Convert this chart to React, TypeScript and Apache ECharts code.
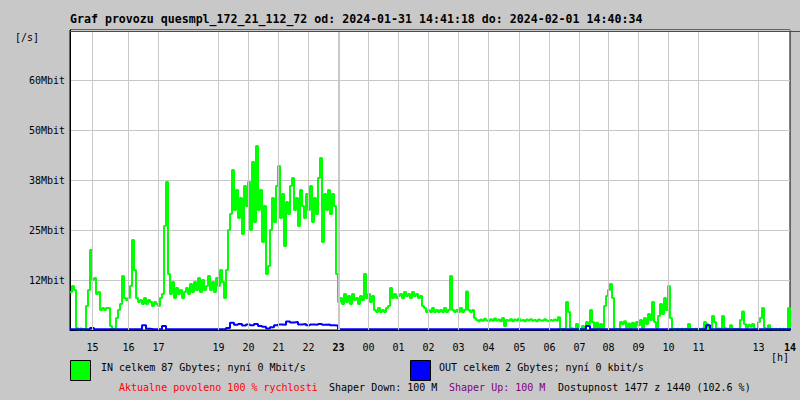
import React, { useEffect, useRef } from "react";
import * as echarts from "echarts";

const titleText =
  "Graf provozu quesmpl_172_21_112_72 od: 2024-01-31 14:41:18 do: 2024-02-01 14:40:34";
const yTicks = [12.5, 25, 37.5, 50, 62.5];
const yTickLabels = ["12Mbit", "25Mbit", "38Mbit", "50Mbit", "60Mbit"];
// positions of hour marks, in minutes from the start of the graph
const hourTicks = [45, 117, 177, 297, 357, 417, 477, 537, 597, 657, 717, 777, 837, 899, 959, 1019, 1077, 1137, 1197, 1257, 1377, 1440];
const hourLabels = ["15", "16", "17", "19", "20", "21", "22", "23", "00", "01", "02", "03", "04", "05", "06", "07", "08", "09", "10", "11", "13", "14"];
const boldHours = ["23", "14"];
const xMax = 1440;
const yMax = 75;

const inStep = 4; // minutes per IN sample
const inValues = [
  9.5, 11, 10, 0.5, 0.2, 0.4, 0.2, 0.3, 6, 10,
  20, 12.5, 13, 9, 9.5, 5, 5.5, 5, 5.5, 5.5,
  1, 0.3, 0.2, 3, 5, 6.5, 13.5, 8, 7.5, 8,
  11, 22.5, 15, 8, 7, 7.5, 6.5, 8, 6.5, 7.5,
  7, 6, 7, 6.5, 6, 8, 9, 26, 37, 14,
  9, 12, 8, 10.5, 9, 10, 8, 9.5, 10.5, 9,
  11.5, 9.5, 12, 10, 13, 9.5, 12.5, 10, 11, 13.5,
  10, 12, 9.5, 13, 11, 15, 12, 8, 15, 25,
  29, 40, 30, 35, 28, 33, 24, 36, 31, 37,
  25, 42, 27, 46, 30, 35, 22, 31, 14, 16,
  25, 33, 27, 36, 41, 28, 34, 21, 32, 29,
  36, 38, 30, 33, 26, 35, 31, 28, 34, 30,
  36, 27, 33, 29, 38, 43, 22, 34, 30, 35,
  29, 34, 31, 14, 7, 8, 6.5, 9, 7, 8.5,
  6.5, 9, 7.5, 8, 6.5, 8.5, 7.5, 14, 8, 9,
  7, 8.5, 5, 4.5, 5.5, 4.5, 5, 4.5, 5.5, 6,
  10.5, 8, 9, 8, 8.5, 9, 8, 9.5, 8.5, 9,
  8, 9.5, 8.5, 9, 8, 8.5, 6, 5.5, 4.5, 5,
  4.5, 5.5, 4.5, 5, 4.5, 5, 4.5, 5.5, 4.5, 5,
  13.5, 5, 4.5, 5, 4.5, 5.5, 4.5, 5, 9.6, 5,
  4.5, 5, 3, 2.5, 2.2, 2.6, 2.3, 2.8, 2.4, 2.2,
  2.7, 2.3, 2.9, 2.4, 2.6, 2.2, 3.0, 1.0, 2.5, 2.3,
  2.7, 2.2, 2.6, 2.4, 2.8, 2.3, 2.5, 2.2, 2.6, 2.4,
  2.7, 2.3, 2.5, 2.2, 2.6, 2.4, 2.3, 2.7, 2.4, 2.2,
  2.5, 2.3, 2.6, 2.4, 3.2, 0.2, 0.3, 0.2, 7, 4.5,
  0.5, 0.3, 0.2, 1.5, 0.2, 0.3, 1, 0.2, 2, 1.5,
  5, 2, 0.3, 1.8, 0.2, 1.5, 0.3, 6, 8.5, 10,
  11.5, 8, 0.3, 0.2, 0.3, 2, 1.5, 2.2, 0.5, 1.6,
  0.4, 1.8, 0.5, 2, 1.2, 2.5, 0.5, 3, 1.5, 4,
  2.5, 7, 2, 0.5, 3.5, 6.5, 4, 8, 5, 11,
  3, 0.4, 0.2, 0.3, 0.2, 0.3, 0.2, 0.3, 0.2, 1.5,
  0.3, 0.2, 0.3, 0.2, 0.3, 0.2, 0.4, 2, 1.5, 0.5,
  0.3, 3.5, 2, 0.4, 0.3, 0.4, 3.5, 0.5, 0.3, 0.2,
  1.2, 0.3, 0.2, 0.3, 0.2, 2.5, 4.6, 1.5, 0.5, 1.3,
  0.8, 1.5, 0.3, 0.4, 2, 3, 5.5, 0.5, 0.3, 1.2,
  0.3, 0.2, 0.3, 0.2, 0.3, 0.2, 0.3, 0.2, 0.3, 5.5,
  0.3, 2, 1.5, 2.5, 1.8, 2,
];

const outStep = 8; // minutes per OUT sample
const outValues = [
  0.2, 0.2, 0.2, 0.2, 0.2, 0.5, 0.2, 0.2, 0.2, 0.2,
  0.2, 0.2, 0.2, 0.2, 0.2, 0.2, 0.2, 0.2, 1.2, 0.3,
  0.2, 0.2, 0.2, 1.0, 0.2, 0.2, 0.2, 0.2, 0.2, 0.2,
  0.2, 0.2, 0.2, 0.2, 0.2, 0.2, 0.2, 0.2, 0.2, 0.5,
  1.8, 1.3, 1.5, 1.1, 1.4, 1.2, 1.5, 1.0, 0.8, 0.4,
  0.7, 1.2, 1.4, 1.3, 2.1, 1.9, 2.0, 1.4, 1.5, 1.2,
  1.4, 1.3, 1.5, 1.3, 1.4, 1.2, 1.1, 0.2, 0.2, 0.2,
  0.2, 0.2, 0.2, 0.2, 0.2, 0.2, 0.2, 0.2, 0.2, 0.2,
  0.2, 0.2, 0.2, 0.2, 0.2, 0.2, 0.2, 0.2, 0.2, 0.2,
  0.2, 0.2, 0.2, 0.2, 0.2, 0.2, 0.2, 0.2, 0.2, 0.2,
  0.2, 0.2, 0.2, 0.2, 0.2, 0.2, 0.2, 0.2, 0.2, 0.2,
  0.2, 0.2, 0.2, 0.2, 0.2, 0.2, 0.2, 0.2, 0.2, 0.2,
  0.2, 0.2, 0.2, 0.2, 0.2, 0.2, 0.2, 0.2, 0.2, 1.0,
  0.2, 0.2, 0.2, 0.2, 0.2, 0.2, 0.2, 0.2, 0.2, 0.2,
  0.2, 0.2, 0.2, 0.2, 0.2, 0.2, 0.2, 0.2, 0.2, 0.2,
  0.2, 0.2, 0.2, 0.2, 0.2, 0.2, 0.2, 0.2, 0.2, 1.2,
  0.2, 0.2, 0.2, 0.2, 0.2, 0.2, 0.2, 0.2, 0.2, 0.2,
  0.2, 0.2, 0.2, 0.2, 0.2, 0.2, 0.2, 0.2, 0.2, 0.2,
  0.3, 0.3, 0.3,
];

const inLegend = "IN celkem 87 Gbytes; nyní 0 Mbit/s";
const outLegend = "OUT celkem 2 Gbytes; nyní 0 kbit/s";
const infoParts = [
  { text: "Aktualne povoleno 100 % rychlosti", color: "#ff0000", x: 119 },
  { text: "Shaper Down: 100 M", color: "#000000", x: 329 },
  { text: "Shaper Up: 100 M", color: "#800080", x: 449 },
  { text: "Dostupnost 1477 z 1440 (102.6 %)", color: "#000000", x: 558 },
];

const MONO = "'DejaVu Sans Mono', 'Liberation Mono', monospace";
const GRID_COLOR = "#c8c8c8";

export default function App() {
  const ref = useRef<HTMLDivElement>(null);
  useEffect(() => {
    if (!ref.current) return;
    const chart = echarts.init(ref.current, undefined, { renderer: "svg" });
    const inData = inValues.map((v, i) => [i * inStep, v]);
    const outData = outValues.map((v, i) => [i * outStep, v]);
    const txt = (x: number, y: number, text: string, fill: string, size = 10, weight = "normal") => ({
      type: "text",
      x,
      y,
      z: 10,
      style: { text, fill, font: `${weight} ${size}px ${MONO}`, textVerticalAlign: "middle", textAlign: "left" },
    });
    chart.setOption({
      animation: false,
      backgroundColor: "#c8c8c8",
      grid: {
        left: 70,
        top: 30,
        width: 720,
        height: 300,
        show: true,
        backgroundColor: "#ffffff",
        borderColor: "#000000",
        borderWidth: 1,
      },
      xAxis: {
        type: "value",
        min: 0,
        max: xMax,
        splitLine: { show: false },
        axisLine: { show: true, lineStyle: { color: "#000", width: 1 } },
        axisTick: { show: false },
        axisLabel: {
          customValues: hourTicks,
          margin: 12,
          color: "#000",
          fontFamily: MONO,
          fontSize: 10,
          formatter: (v: number) => {
            const idx = hourTicks.indexOf(v);
            if (idx < 0) return "";
            const lab = hourLabels[idx];
            return boldHours.includes(lab) ? `{b|${lab}}` : lab;
          },
          rich: { b: { fontWeight: "bold", fontFamily: MONO, fontSize: 10, color: "#000" } },
        },
      },
      yAxis: {
        type: "value",
        min: 0,
        max: yMax,
        interval: 12.5,
        splitLine: { show: true, lineStyle: { color: GRID_COLOR, width: 1 } },
        axisLine: { show: true, lineStyle: { color: "#000", width: 1 } },
        axisTick: { show: false },
        axisLabel: {
          margin: 5,
          color: "#000",
          fontFamily: MONO,
          fontSize: 10,
          formatter: (v: number) => {
            const idx = yTicks.indexOf(v);
            return idx < 0 ? "" : yTickLabels[idx];
          },
        },
      },
      series: [
        {
          type: "line",
          data: [[0, 0]],
          showSymbol: false,
          lineStyle: { width: 0, opacity: 0 },
          silent: true,
          z: 1,
          markLine: {
            silent: true,
            symbol: ["none", "none"],
            label: { show: false },
            animation: false,
            data: hourTicks
              .filter((t) => t < xMax)
              .map((t, i) => ({
                xAxis: t,
                lineStyle: {
                  color: GRID_COLOR,
                  type: "solid",
                  width: hourLabels[i] === "23" ? 2 : 1,
                },
              })),
          },
        },
        {
          name: "IN",
          type: "line",
          data: inData,
          step: "end",
          showSymbol: false,
          clip: false,
          z: 3,
          lineStyle: { color: "#00ff00", width: 2 },
        },
        {
          name: "OUT",
          type: "line",
          data: outData,
          step: "end",
          showSymbol: false,
          clip: false,
          z: 4,
          lineStyle: { color: "#0000ff", width: 2 },
        },
      ],
      graphic: [
        txt(70, 19, titleText, "#000", 11.6, "bold"),
        txt(15, 37, "[/s]", "#000"),
        txt(771, 357, "[h]", "#000"),
        {
          type: "line",
          z: 10,
          shape: { x1: 70, y1: 31.5, x2: 800, y2: 31.5 },
          style: { stroke: "#ff0000", lineWidth: 1 },
        },
        {
          type: "rect",
          z: 10,
          shape: { x: 70.5, y: 360.5, width: 20, height: 20 },
          style: { fill: "#00ff00", stroke: "#000", lineWidth: 1 },
        },
        {
          type: "rect",
          z: 10,
          shape: { x: 410.5, y: 360.5, width: 20, height: 20 },
          style: { fill: "#0000ff", stroke: "#000", lineWidth: 1 },
        },
        txt(101, 367, inLegend, "#000"),
        txt(439, 367, outLegend, "#000"),
        ...infoParts.map((p) => txt(p.x, 387, p.text, p.color)),
      ],
    });
    return () => chart.dispose();
  }, []);
  return (
    <div
      ref={ref}
      style={{ position: "absolute", left: 0, top: 0, width: 800, height: 400 }}
    />
  );
}
